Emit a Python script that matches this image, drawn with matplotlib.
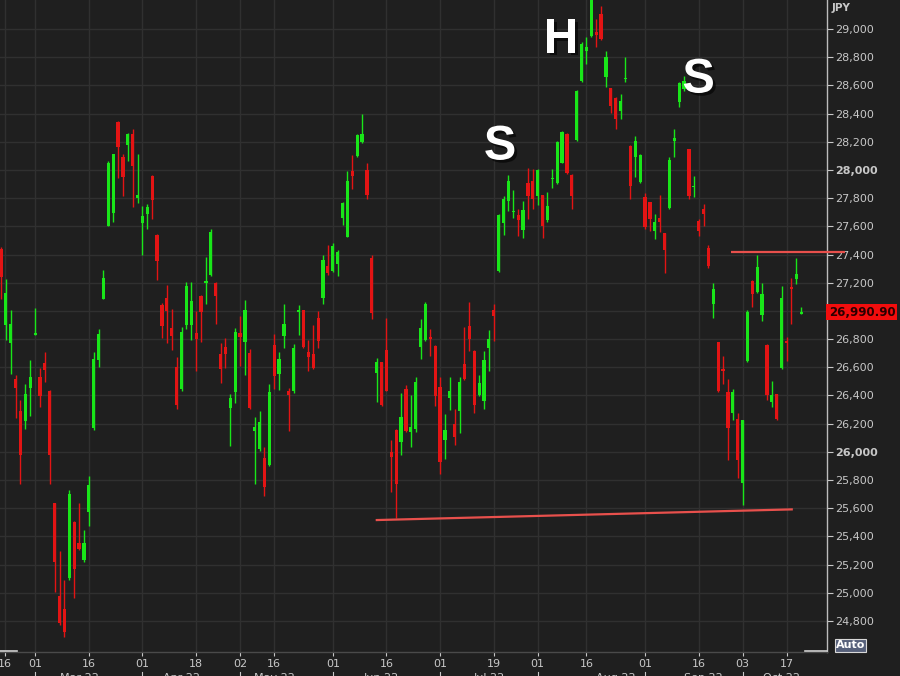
import matplotlib
matplotlib.use("Agg")
import matplotlib.pyplot as plt
import matplotlib.patheffects as pe
from matplotlib.patches import Rectangle
import numpy as np

# daily OHLC, Nikkei 225 (JPY), 17 Feb - 20 Oct 2022
opens = [27440, 26903, 26771, 26519, 26292, 26216, 26456, 26832, 26532, 26633,
         26430, 25640, 24979, 24883, 25105, 25504, 25350, 25231, 25572, 26170,
         26653, 27087, 27604, 27693, 28342, 28089, 28180, 28256, 27801, 27625,
         27685, 27956, 27541, 27041, 27094, 26877, 26600, 26443, 26897, 26897,
         26842, 27105, 27200, 27256, 27200, 26696, 26744, 26314, 26428, 26845,
         26781, 26703, 26145, 26020, 25956, 25909, 26758, 26550, 26821, 26432,
         26432, 26991, 27003, 26711, 26692, 26951, 27093, 27317, 27286, 27333,
         27659, 27526, 27996, 28096, 28198, 28001, 27374, 26558, 26635, 26722,
         26000, 26158, 26071, 26447, 26141, 26165, 26746, 26793, 26816, 26753,
         26459, 26087, 26383, 26195, 26289, 26624, 26894, 26713, 26400, 26360,
         26736, 27005, 27281, 27623, 27778, 27702, 27682, 27575, 27910, 27922,
         27814, 27821, 27647, 27934, 27910, 28053, 28256, 27965, 28213, 28634,
         28846, 28953, 28980, 29106, 28657, 28582, 28511, 28421, 28645, 28173,
         28090, 27913, 27806, 27771, 27565, 27660, 27551, 27730, 28208, 28480,
         28574, 28149, 27877, 27641, 27720, 27447, 27052, 26776, 26588, 26424,
         26275, 26235, 25776, 26647, 27212, 27136, 26972, 26760, 26353, 26407,
         26595, 26788, 27169, 27224, 26980]
highs = [27450, 27226, 27004, 26544, 26367, 26481, 26650, 27019, 26595, 26708,
         26438, 25640, 25294, 25092, 25728, 25509, 25635, 25446, 25832, 26708,
         26872, 27289, 28064, 28115, 28350, 28110, 28261, 28291, 28110, 27741,
         27756, 27964, 27549, 27054, 27187, 27011, 26676, 26885, 27205, 27205,
         26998, 27112, 27382, 27584, 27205, 26769, 26810, 26409, 26880, 26963,
         27074, 26727, 26244, 26291, 26032, 26480, 26833, 26711, 27050, 26456,
         26767, 27045, 27010, 26791, 26899, 26998, 27394, 27470, 27482, 27434,
         27776, 27992, 28103, 28257, 28400, 28048, 27398, 26666, 26640, 26953,
         26082, 26165, 26416, 26471, 26400, 26529, 26941, 27066, 26871, 26758,
         26534, 26266, 26534, 26306, 26534, 26887, 27066, 26722, 26548, 26713,
         26864, 27052, 27687, 27814, 27965, 27855, 27726, 27783, 28017, 28005,
         28005, 27826, 27845, 28005, 28204, 28280, 28264, 27968, 28567, 28905,
         28941, 29270, 29071, 29165, 28846, 28585, 28516, 28539, 28799, 28175,
         28244, 28113, 27834, 27773, 27688, 27825, 27553, 28090, 28291, 28622,
         28669, 28150, 27960, 27653, 27760, 27466, 27200, 26783, 26682, 26518,
         26447, 26275, 26228, 27004, 27217, 27400, 27200, 26762, 26501, 26410,
         27176, 26812, 27231, 27376, 27028]
lows = [27087, 26797, 26549, 26241, 25774, 26165, 26254, 26827, 26317, 26494,
        25774, 25004, 24772, 24688, 25092, 24966, 25302, 25218, 25476, 26153,
        26600, 27082, 27599, 27630, 27945, 27814, 28064, 27736, 27768, 27398,
        27579, 27655, 27220, 26809, 26772, 26720, 26304, 26430, 26872, 26792,
        26574, 26777, 27049, 27251, 26909, 26491, 26597, 26043, 26350, 26609,
        26546, 26303, 25772, 26003, 25690, 25902, 26444, 26437, 26739, 26149,
        26420, 26828, 26739, 26574, 26586, 26734, 27050, 27258, 27277, 27246,
        27611, 27521, 27866, 28091, 28191, 27794, 26940, 26353, 26322, 26431,
        25718, 25529, 25976, 26141, 26035, 26141, 26659, 26788, 26682, 26322,
        25842, 25946, 26294, 26047, 26134, 26511, 26713, 26275, 26393, 26306,
        26576, 26788, 27276, 27539, 27706, 27658, 27534, 27515, 27654, 27726,
        27749, 27520, 27630, 27869, 27902, 28046, 27974, 27726, 28208, 28622,
        28752, 28940, 28870, 28922, 28591, 28402, 28291, 28362, 28622, 27794,
        27948, 27906, 27582, 27570, 27511, 27558, 27267, 27723, 28095, 28445,
        28560, 27794, 27806, 27534, 27600, 27301, 26953, 26424, 26482, 25941,
        26224, 25812, 25623, 26640, 27028, 27129, 26925, 26365, 26318, 26228,
        26588, 26647, 26906, 27188, 26975]
closes = [27240, 27125, 26910, 26456, 25976, 26413, 26532, 26842, 26393, 26582,
          25976, 25218, 24789, 24721, 25698, 25168, 25312, 25350, 25766, 26658,
          26835, 27233, 28046, 28110, 28160, 27950, 28256, 28026, 27826, 27675,
          27738, 27786, 27352, 26892, 26998, 26821, 26330, 26847, 27175, 27067,
          26801, 26993, 27215, 27559, 27105, 26586, 26696, 26385, 26852, 26814,
          27010, 26310, 26173, 26215, 25749, 26428, 26538, 26656, 26909, 26404,
          26739, 27010, 26744, 26673, 26593, 26786, 27364, 27269, 27458, 27418,
          27765, 27925, 27954, 28246, 28257, 27825, 26988, 26635, 26329, 26435,
          25965, 25772, 26247, 26148, 26176, 26494, 26878, 27052, 26800, 26393,
          25929, 26158, 26431, 26106, 26494, 26518, 26800, 26329, 26487, 26652,
          26800, 26965, 27682, 27797, 27922, 27711, 27646, 27718, 27814, 27797,
          27998, 27599, 27742, 27941, 28197, 28268, 27981, 27814, 28558, 28894,
          28870, 29222, 28955, 28929, 28804, 28456, 28362, 28492, 28653, 27889,
          28208, 28109, 27594, 27652, 27629, 27629, 27433, 28071, 28227, 28615,
          28634, 27818, 27889, 27570, 27688, 27318, 27153, 26431, 26572, 26172,
          26424, 25941, 26224, 26995, 27122, 27311, 27122, 26400, 26400, 26235,
          27089, 26769, 27153, 27264, 26991]

# x-axis: trading-day index of each labelled date
tick_pos = [0.8, 7, 18, 29, 40, 49, 56, 68, 79, 90, 101, 110, 120, 132, 143, 152, 161]
tick_lbl = ["16", "01", "16", "01", "18", "02", "16", "01", "16", "01", "19",
            "01", "16", "01", "16", "03", "17"]
month_start = [7, 29, 49, 68, 90, 110, 132, 152]
month_pos = [16, 37, 56, 78, 100, 126, 144, 160]
month_lbl = ["Mar 22", "Apr 22", "May 22", "Jun 22", "Jul 22", "Aug 22", "Sep 22", "Oct 22"]

# drawn annotations (head & shoulders)
neckline_x = [76.8, 162.3]
neckline_y = [25516, 25592]
resist_x = [149.6, 172.9]
resist_y = [27418, 27418]
hs_labels = ["S", "H", "S"]
hs_x = [102.3, 114.8, 143.0]
hs_y = [28163, 28922, 28638]
last_price = 26990.90

BG = "#1f1f1f"
GRID = "#303030"
TXT = "#c8c8c8"
UP = "#19e619"
DOWN = "#e31414"
LINE = "#e8504c"

fig = plt.figure(figsize=(9, 6.76), dpi=100, facecolor=BG)
W, H = 900, 676
ax = fig.add_axes([0, (H - 652) / H, 827 / W, 652 / H])
ax.set_facecolor(BG)

o = np.array(opens); h = np.array(highs); l = np.array(lows); c = np.array(closes)
x = np.arange(len(o))
up = c >= o
cols = np.where(up, UP, DOWN)

ax.vlines(x, l, h, colors=cols, linewidth=1.0, zorder=3)
bottom = np.minimum(o, c)
height = np.maximum(np.abs(c - o), 10)
ax.bar(x, height, bottom=bottom, width=0.66, color=cols, edgecolor="none", zorder=4)

ax.set_xlim(-0.2, 169.3)
ax.set_ylim(24580, 29206)

# grid; the 27,000 label sits under the last-price tag
ax.set_yticks(np.arange(24800, 29001, 200))
ax.set_yticklabels(["" if v == 27000 else f"{v:,}" for v in range(24800, 29001, 200)])
ax.set_xticks(tick_pos)
ax.set_xticklabels(tick_lbl)
ax.grid(True, color=GRID, linewidth=1.0, zorder=0)
ax.set_axisbelow(True)

ax.yaxis.tick_right()
ax.tick_params(axis="y", direction="out", length=4, pad=1.5, colors=TXT,
               labelsize=8, width=0.8)
ax.tick_params(axis="x", direction="out", length=3, pad=2, colors=TXT,
               labelsize=8, width=0.8)
for lab in ax.get_yticklabels():
    if lab.get_text() in ("26,000", "28,000"):
        lab.set_fontweight("bold")

for s in ("top", "left"):
    ax.spines[s].set_visible(False)
ax.spines["right"].set_color("#bdbdbd")
ax.spines["right"].set_linewidth(1.0)
ax.spines["bottom"].set_color("#4a4a4a")
ax.spines["bottom"].set_linewidth(1.0)

# month row (cut off at the bottom edge as in the source)
for mp, ml in zip(month_pos, month_lbl):
    ax.text(mp, -(673 - 652) / 652, ml, transform=ax.get_xaxis_transform(),
            ha="center", va="top", color=TXT, fontsize=8, clip_on=False)
for ms in month_start:
    ax.plot([ms, ms], [-(672 - 652) / 652, -(677 - 652) / 652],
            transform=ax.get_xaxis_transform(), color=TXT, lw=0.8, clip_on=False)

# pattern lines and labels
ax.plot(neckline_x, neckline_y, color=LINE, lw=1.6, zorder=6, solid_capstyle="butt")
ax.plot(resist_x, resist_y, color=LINE, lw=1.6, zorder=6, clip_on=False,
        solid_capstyle="butt")
for t, tx, ty in zip(hs_labels, hs_x, hs_y):
    ax.text(tx, ty, t, color="white", fontsize=35, fontweight="bold",
            family="Liberation Sans", ha="center", va="center", zorder=7,
            path_effects=[pe.withSimplePatchShadow(offset=(2, -2), shadow_rgbFace="black",
                                                   alpha=0.6)])

# right-hand decorations
fig.text(832 / W, 1 - 8 / H, "JPY", color=TXT, fontsize=7.5, fontweight="bold",
         ha="left", va="center")
fig.patches.append(Rectangle((826 / W, 1 - 320 / H), 71 / W, 16 / H,
                             transform=fig.transFigure, facecolor="#f20d0d",
                             edgecolor="none", zorder=5))
fig.text(829 / W, 1 - 312 / H, f"{last_price:,.2f}", color="#2a0000", fontsize=8.5,
         fontweight="bold", ha="left", va="center", zorder=6)
fig.patches.append(Rectangle((835 / W, 1 - 652 / H), 31 / W, 13 / H,
                             transform=fig.transFigure, facecolor="#56607a",
                             edgecolor="#d8d8d8", linewidth=0.8, zorder=5))
fig.text(850.5 / W, 1 - 645.5 / H, "Auto", color="white", fontsize=8,
         fontweight="bold", ha="center", va="center", zorder=6)
# scrollbar marks
fig.lines.append(plt.Line2D([0, 17 / W], [1 - 651 / H] * 2, transform=fig.transFigure,
                            color="#d0d0d0", lw=1.2))
fig.lines.append(plt.Line2D([805 / W, 827 / W], [1 - 651 / H] * 2,
                            transform=fig.transFigure, color="#d0d0d0", lw=1.2))

fig.savefig("out.png", dpi=100, facecolor=BG)
